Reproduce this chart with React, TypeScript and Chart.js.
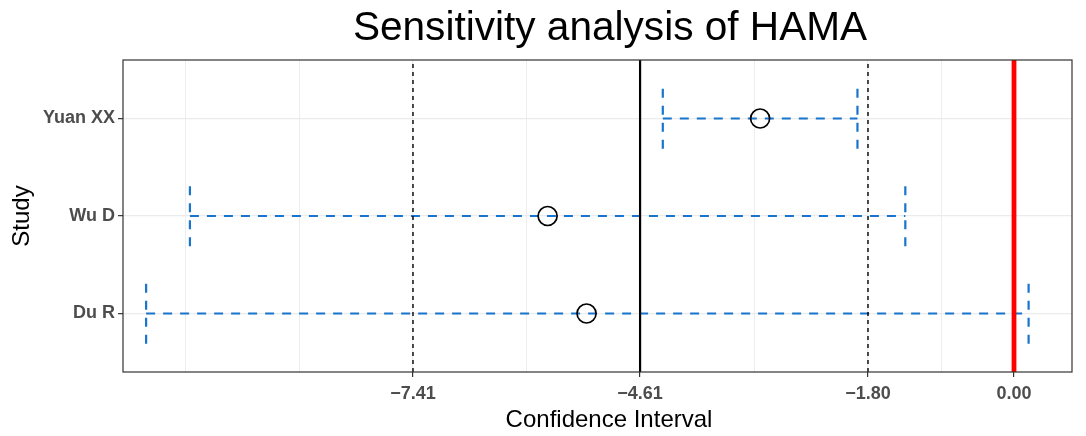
import React, { useEffect, useRef } from "react";
import { Chart, registerables } from "chart.js";

Chart.register(...registerables);

const studies = ["Du R", "Wu D", "Yuan XX"];
const estimates = [-5.27, -5.75, -3.13];
const lowerCI = [-10.7, -10.16, -4.33];
const upperCI = [0.18, -1.34, -1.93];
const pooledEstimate = -4.61;
const pooledCI = [-7.41, -1.8];
const nullValue = 0;
const xTickValues = [-7.41, -4.61, -1.8, 0.0];
const xTickLabels = ["−7.41", "−4.61", "−1.80", "0.00"];
const titleText = "Sensitivity analysis of HAMA";
const xTitle = "Confidence Interval";
const yTitle = "Study";

const X_MIN = -10.985;
const X_MAX = 0.715;
const Y_MIN = 0.4;
const Y_MAX = 3.6;
const CAP = 0.31;
const FONT = "'Liberation Sans', Arial, Helvetica, sans-serif";
const BLUE = "#1874CD";

// ggplot-style minor breaks: midpoints between majors, with one extra major step on each side
function minorBreaks(): number[] {
  const b = [...xTickValues];
  const ext = [b[0] - (b[1] - b[0]), ...b, b[b.length - 1] + (b[b.length - 1] - b[b.length - 2])];
  const out: number[] = [];
  for (let i = 0; i < ext.length - 1; i++) {
    out.push(ext[i]);
    out.push((ext[i] + ext[i + 1]) / 2);
  }
  out.push(ext[ext.length - 1]);
  return out.filter((v) => v > X_MIN && v < X_MAX && !xTickValues.some((m) => Math.abs(m - v) < 1e-9));
}

const isMajor = (v: number) => xTickValues.some((m) => Math.abs(m - v) < 1e-9);

export default function App() {
  const ref = useRef<HTMLCanvasElement | null>(null);

  useEffect(() => {
    if (!ref.current) return;
    const datasets: any[] = [];

    datasets.push({
      data: estimates.map((e, i) => ({ x: e, y: i + 1 })),
      showLine: false,
      pointRadius: 9.5,
      pointBorderWidth: 1.7,
      pointBorderColor: "#000000",
      pointBackgroundColor: "rgba(0,0,0,0)",
      order: 0,
    });

    const vline = (x: number, color: string, width: number, dash: number[]) => ({
      data: [
        { x, y: Y_MIN },
        { x, y: Y_MAX },
      ],
      borderColor: color,
      borderWidth: width,
      borderDash: dash,
      pointRadius: 0,
      order: 1,
    });
    datasets.push(vline(pooledCI[0], "#000000", 1.4, [4, 4]));
    datasets.push(vline(pooledCI[1], "#000000", 1.4, [4, 4]));
    datasets.push(vline(pooledEstimate, "#000000", 2.2, []));
    datasets.push(vline(nullValue, "#FF0000", 4.8, []));

    studies.forEach((_, i) => {
      const y = i + 1;
      datasets.push({
        data: [
          { x: lowerCI[i], y },
          { x: upperCI[i], y },
        ],
        borderColor: BLUE,
        borderWidth: 2.2,
        borderDash: [9, 8],
        pointRadius: 0,
        order: 2,
      });
      [lowerCI[i], upperCI[i]].forEach((x) => {
        datasets.push({
          data: [
            { x, y: y - CAP },
            { x, y: y + CAP },
          ],
          borderColor: BLUE,
          borderWidth: 2.2,
          borderDash: [9, 8],
          pointRadius: 0,
          order: 2,
        });
      });
    });

    const textPlugin = {
      id: "ggText",
      afterDraw(chart: any) {
        const { ctx, chartArea } = chart;
        ctx.save();
        ctx.strokeStyle = "#333333";
        ctx.lineWidth = 1.2;
        ctx.strokeRect(chartArea.left, chartArea.top, chartArea.right - chartArea.left, chartArea.bottom - chartArea.top);
        ctx.fillStyle = "#000000";
        ctx.textAlign = "center";
        ctx.textBaseline = "alphabetic";
        ctx.font = `40.6px ${FONT}`;
        ctx.fillText(titleText, 610, 40);
        ctx.font = `24px ${FONT}`;
        ctx.fillText(xTitle, 609, 427);
        ctx.translate(29, (chartArea.top + chartArea.bottom) / 2);
        ctx.rotate(-Math.PI / 2);
        ctx.fillText(yTitle, 0, 0);
        ctx.restore();
      },
    };

    const minors = minorBreaks();

    const chart = new Chart(ref.current, {
      type: "line",
      data: { datasets },
      plugins: [textPlugin],
      options: {
        animation: false,
        responsive: false,
        layout: { padding: { top: 60, left: 0, right: 14, bottom: 0 } },
        plugins: { legend: { display: false }, tooltip: { enabled: false }, title: { display: false } },
        elements: { line: { tension: 0, fill: false, borderCapStyle: "butt" } },
        scales: {
          x: {
            type: "linear",
            min: X_MIN,
            max: X_MAX,
            border: { display: false },
            afterBuildTicks: (scale: any) => {
              scale.ticks = [...minors, ...xTickValues].sort((a, b) => a - b).map((v) => ({ value: v }));
            },
            afterFit: (scale: any) => {
              scale.height = 64;
            },
            ticks: {
              autoSkip: false,
              maxRotation: 0,
              padding: 6,
              color: "#4D4D4D",
              font: { family: FONT, size: 18, weight: "bold" },
              callback: (v: any) => {
                const idx = xTickValues.findIndex((m) => Math.abs(m - Number(v)) < 1e-9);
                return idx >= 0 ? xTickLabels[idx] : "";
              },
            },
            grid: {
              drawTicks: true,
              tickLength: 5,
              color: "#EBEBEB",
              lineWidth: (c: any) => (c.tick && isMajor(c.tick.value) ? 1.2 : 0.9),
              tickColor: (c: any) => (c.tick && isMajor(c.tick.value) ? "#333333" : "rgba(0,0,0,0)"),
              tickWidth: 1.2,
            },
          },
          y: {
            type: "linear",
            min: Y_MIN,
            max: Y_MAX,
            border: { display: false },
            afterBuildTicks: (scale: any) => {
              scale.ticks = studies.map((_, i) => ({ value: i + 1 }));
            },
            afterFit: (scale: any) => {
              scale.width = 123;
            },
            ticks: {
              autoSkip: false,
              padding: 3,
              color: "#4D4D4D",
              font: { family: FONT, size: 18, weight: "bold" },
              callback: (v: any) => studies[Math.round(Number(v)) - 1] ?? "",
            },
            grid: {
              drawTicks: true,
              tickLength: 5,
              color: "#EBEBEB",
              lineWidth: 1.3,
              tickColor: "#333333",
              tickWidth: 1.2,
            },
          },
        },
      } as any,
    });
    return () => chart.destroy();
  }, []);

  return (
    <div style={{ position: "fixed", left: 0, top: 0, width: 1086, height: 436, background: "#ffffff" }}>
      <canvas ref={ref} width={1086} height={436} style={{ width: 1086, height: 436, display: "block" }} />
    </div>
  );
}
